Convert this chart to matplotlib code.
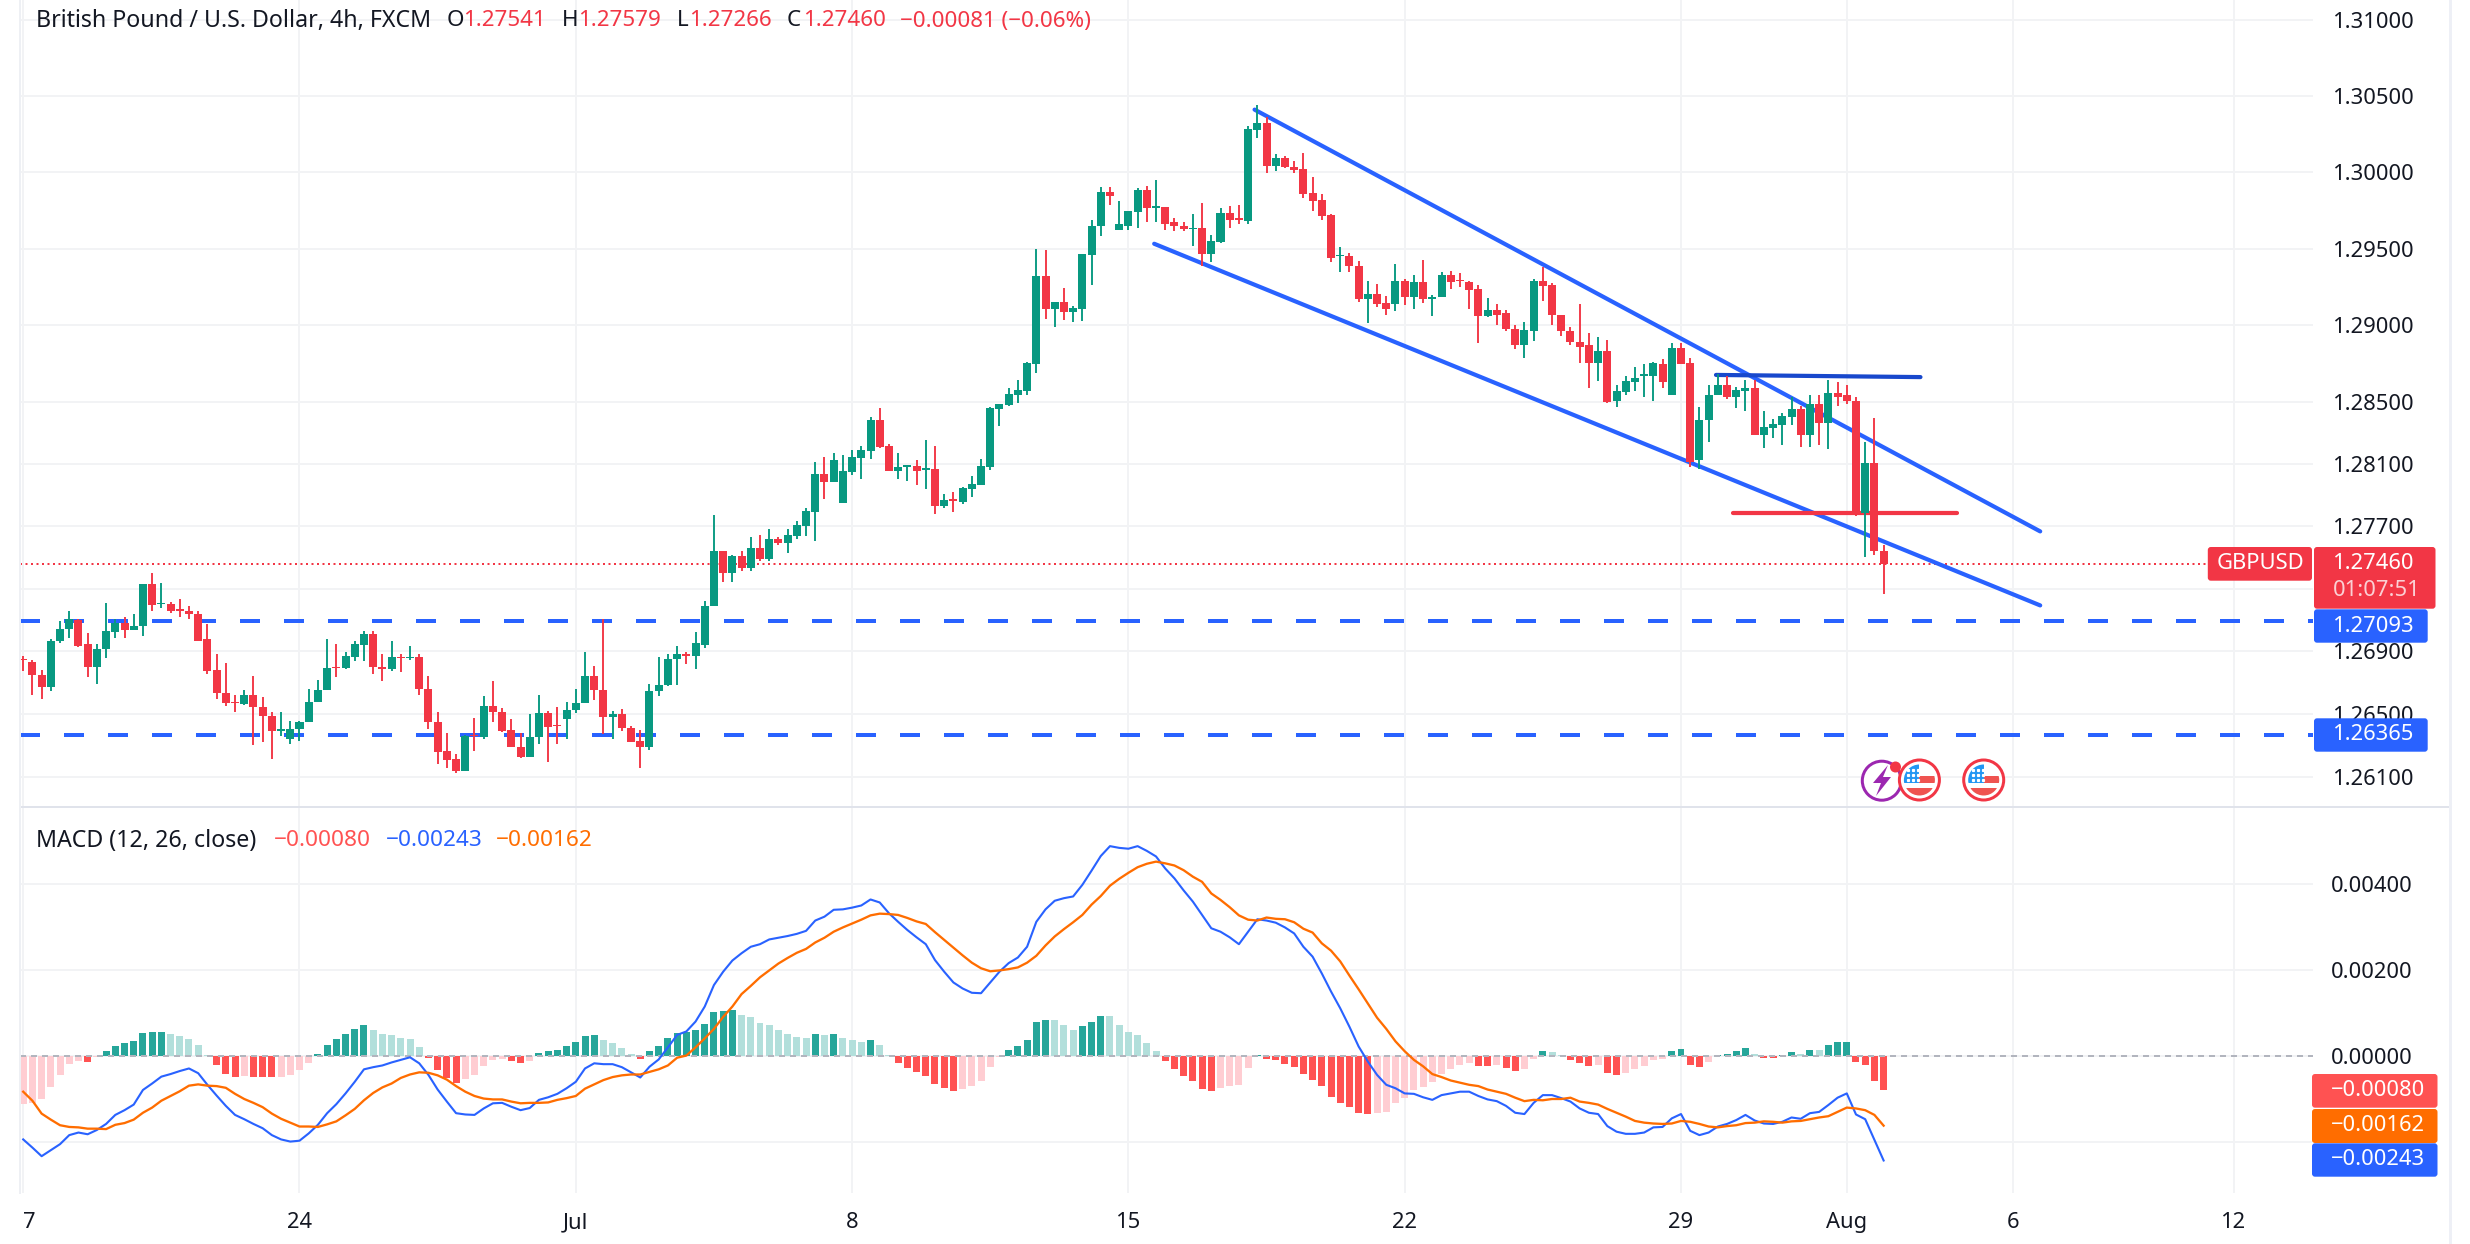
import matplotlib
matplotlib.use("Agg")
import matplotlib.pyplot as plt
import numpy as np
from matplotlib.patches import Circle, FancyBboxPatch, Polygon, Rectangle

plt.rcParams['font.family'] = ['Noto Sans', 'DejaVu Sans']

opens = [1.26853,1.26834,1.26751,1.26670,1.26962,1.27041,1.27098,1.26943,1.26798,1.26913,
         1.27020,1.27083,1.27034,1.27060,1.27327,1.27199,1.27205,1.27167,1.27160,1.27141,
         1.26975,1.26783,1.26636,1.26578,1.26561,1.26623,1.26546,1.26488,1.26388,1.26337,
         1.26401,1.26446,1.26574,1.26650,1.26802,1.26791,1.26866,1.26938,1.27013,1.26802,
         1.26785,1.26866,1.26855,1.26860,1.26661,1.26450,1.26264,1.26213,1.26138,1.26367,
         1.26350,1.26552,1.26514,1.26399,1.26290,1.26228,1.26350,1.26507,1.26431,1.26465,
         1.26522,1.26567,1.26744,1.26655,1.26478,1.26501,1.26412,1.26328,1.26286,1.26644,
         1.26682,1.26849,1.26885,1.26868,1.26937,1.27186,1.27540,1.27399,1.27507,1.27432,
         1.27559,1.27488,1.27617,1.27591,1.27637,1.27701,1.27794,1.28038,1.27986,1.27850,
         1.28051,1.28142,1.28187,1.28388,1.28219,1.28058,1.28083,1.28090,1.28064,1.28071,
         1.27831,1.27876,1.27857,1.27941,1.27967,1.28083,1.28459,1.28485,1.28550,1.28576,
         1.28750,1.29320,1.29107,1.29152,1.29087,1.29107,1.29456,1.29644,1.29870,1.29618,
         1.29650,1.29741,1.29884,1.29767,1.29773,1.29670,1.29650,1.29625,1.29631,1.29463,
         1.29540,1.29735,1.29696,1.29682,1.30277,1.30321,1.30037,1.30089,1.30035,1.30017,
         1.29861,1.29816,1.29718,1.29448,1.29452,1.29387,1.29168,1.29206,1.29148,1.29137,
         1.29289,1.29182,1.29284,1.29168,1.29182,1.29329,1.29295,1.29284,1.29237,1.29059,
         1.29101,1.29077,1.28978,1.28875,1.28965,1.29289,1.29264,1.29070,1.28965,1.28893,
         1.28869,1.28753,1.28835,1.28507,1.28569,1.28634,1.28668,1.28668,1.28750,1.28547,
         1.28855,1.28757,1.28129,1.28384,1.28545,1.28610,1.28538,1.28576,1.28596,1.28292,
         1.28337,1.28357,1.28408,1.28460,1.28292,1.28487,1.28364,1.28558,1.28545,1.28511,
         1.27787,1.28109,1.27541]
highs = [1.26872,1.26845,1.26781,1.26979,1.27094,1.27154,1.27107,1.27017,1.26949,1.27211,
         1.27103,1.27120,1.27135,1.27333,1.27401,1.27339,1.27218,1.27231,1.27192,1.27154,
         1.27077,1.26879,1.26827,1.26623,1.26655,1.26744,1.26610,1.26514,1.26514,1.26456,
         1.26456,1.26661,1.26719,1.26981,1.26943,1.26898,1.26968,1.27026,1.27026,1.26879,
         1.26962,1.26885,1.26936,1.26885,1.26744,1.26514,1.26380,1.26245,1.26367,1.26476,
         1.26616,1.26712,1.26539,1.26469,1.26380,1.26501,1.26623,1.26520,1.26546,1.26578,
         1.26661,1.26898,1.26808,1.27103,1.26520,1.26533,1.26424,1.26399,1.26693,1.26860,
         1.26879,1.26936,1.26892,1.27020,1.27222,1.27773,1.27540,1.27514,1.27540,1.27630,
         1.27643,1.27682,1.27630,1.27682,1.27734,1.27818,1.28116,1.28148,1.28174,1.28161,
         1.28194,1.28219,1.28407,1.28465,1.28232,1.28174,1.28096,1.28129,1.28258,1.28219,
         1.27909,1.27922,1.27954,1.28025,1.28135,1.28472,1.28491,1.28595,1.28647,1.28763,
         1.29495,1.29489,1.29152,1.29243,1.29126,1.29463,1.29683,1.29903,1.29903,1.29812,
         1.29748,1.29896,1.29909,1.29948,1.29773,1.29702,1.29670,1.29728,1.29799,1.29586,
         1.29767,1.29780,1.29786,1.30299,1.30437,1.30361,1.30120,1.30107,1.30075,1.30127,
         1.29964,1.29854,1.29725,1.29510,1.29472,1.29421,1.29289,1.29271,1.29193,1.29401,
         1.29302,1.29329,1.29425,1.29199,1.29349,1.29356,1.29342,1.29291,1.29264,1.29179,
         1.29141,1.29097,1.29005,1.29023,1.29302,1.29380,1.29278,1.29070,1.28992,1.29141,
         1.28947,1.28927,1.28907,1.28610,1.28668,1.28732,1.28746,1.28759,1.28784,1.28887,
         1.28887,1.28790,1.28473,1.28610,1.28681,1.28668,1.28603,1.28647,1.28647,1.28446,
         1.28395,1.28433,1.28538,1.28480,1.28551,1.28551,1.28647,1.28634,1.28616,1.28538,
         1.28245,1.28402,1.27579]
lows = [1.26772,1.26618,1.26593,1.26644,1.26955,1.26983,1.26930,1.26734,1.26689,1.26855,
        1.26983,1.26983,1.27034,1.27000,1.27156,1.27175,1.27143,1.27118,1.27105,1.26964,
        1.26753,1.26593,1.26548,1.26510,1.26554,1.26305,1.26318,1.26215,1.26362,1.26311,
        1.26330,1.26446,1.26574,1.26650,1.26734,1.26785,1.26836,1.26836,1.26753,1.26708,
        1.26772,1.26766,1.26842,1.26618,1.26401,1.26183,1.26158,1.26126,1.26138,1.26266,
        1.26343,1.26446,1.26382,1.26286,1.26222,1.26228,1.26311,1.26196,1.26311,1.26343,
        1.26503,1.26567,1.26586,1.26369,1.26337,1.26388,1.26324,1.26158,1.26273,1.26616,
        1.26676,1.26682,1.26817,1.26785,1.26918,1.27186,1.27341,1.27341,1.27412,1.27412,
        1.27477,1.27477,1.27581,1.27527,1.27617,1.27637,1.27604,1.27876,1.27986,1.27850,
        1.28032,1.28006,1.28135,1.28207,1.28058,1.28006,1.27993,1.27967,1.27941,1.27779,
        1.27818,1.27792,1.27844,1.27889,1.27967,1.28064,1.28349,1.28478,1.28498,1.28550,
        1.28692,1.29042,1.28990,1.29035,1.29022,1.29029,1.29262,1.29579,1.29786,1.29618,
        1.29618,1.29637,1.29676,1.29676,1.29618,1.29612,1.29612,1.29514,1.29385,1.29411,
        1.29534,1.29637,1.29663,1.29662,1.30221,1.29993,1.30006,1.30024,1.29993,1.29827,
        1.29747,1.29689,1.29410,1.29345,1.29349,1.29150,1.29018,1.29121,1.29065,1.29090,
        1.29130,1.29103,1.29144,1.29059,1.29182,1.29237,1.29251,1.29103,1.28884,1.29052,
        1.29005,1.28960,1.28844,1.28786,1.28896,1.29155,1.29001,1.28929,1.28869,1.28753,
        1.28592,1.28636,1.28498,1.28469,1.28545,1.28576,1.28534,1.28507,1.28592,1.28547,
        1.28746,1.28084,1.28073,1.28241,1.28545,1.28520,1.28462,1.28442,1.28292,1.28207,
        1.28272,1.28227,1.28357,1.28214,1.28214,1.28227,1.28201,1.28480,1.28487,1.27767,
        1.27506,1.27519,1.27266]
closes = [1.26842,1.26746,1.26670,1.26968,1.27045,1.27107,1.26936,1.26798,1.26917,1.27026,
          1.27083,1.27034,1.27064,1.27327,1.27194,1.27211,1.27156,1.27156,1.27135,1.26968,
          1.26776,1.26631,1.26567,1.26567,1.26623,1.26542,1.26484,1.26388,1.26405,1.26405,
          1.26450,1.26578,1.26655,1.26795,1.26791,1.26872,1.26943,1.27013,1.26798,1.26785,
          1.26860,1.26855,1.26866,1.26657,1.26446,1.26260,1.26209,1.26138,1.26362,1.26356,
          1.26552,1.26510,1.26394,1.26286,1.26228,1.26354,1.26507,1.26418,1.26420,1.26527,
          1.26571,1.26744,1.26650,1.26478,1.26501,1.26407,1.26324,1.26286,1.26648,1.26687,
          1.26853,1.26885,1.26868,1.26955,1.27190,1.27540,1.27399,1.27507,1.27432,1.27559,
          1.27488,1.27617,1.27591,1.27643,1.27708,1.27799,1.28038,1.27986,1.28129,1.28058,
          1.28148,1.28194,1.28388,1.28213,1.28058,1.28083,1.28096,1.28058,1.28077,1.27831,
          1.27870,1.27863,1.27948,1.27973,1.28090,1.28465,1.28491,1.28556,1.28582,1.28757,
          1.29320,1.29107,1.29152,1.29087,1.29113,1.29463,1.29650,1.29870,1.29845,1.29657,
          1.29748,1.29884,1.29767,1.29780,1.29663,1.29644,1.29625,1.29637,1.29463,1.29547,
          1.29735,1.29683,1.29683,1.30283,1.30321,1.30037,1.30089,1.30031,1.30011,1.29854,
          1.29810,1.29713,1.29441,1.29459,1.29383,1.29168,1.29206,1.29141,1.29103,1.29289,
          1.29182,1.29284,1.29168,1.29186,1.29329,1.29284,1.29287,1.29231,1.29059,1.29101,
          1.29070,1.28974,1.28875,1.28972,1.29289,1.29258,1.29065,1.28960,1.28889,1.28862,
          1.28753,1.28835,1.28502,1.28576,1.28641,1.28661,1.28681,1.28753,1.28630,1.28855,
          1.28750,1.28118,1.28388,1.28549,1.28610,1.28538,1.28583,1.28596,1.28292,1.28344,
          1.28361,1.28413,1.28460,1.28292,1.28487,1.28364,1.28558,1.28538,1.28507,1.27787,
          1.28109,1.27539,1.27460]

hist = [-111,-109,-99,-71,-44,-19,-12,-13,-3,12,23,30,35,53,56,56,51,47,40,26,
        2,-22,-42,-49,-47,-49,-49,-50,-48,-44,-33,-16,5,26,40,51,63,72,60,51,
        49,42,40,21,-5,-33,-51,-63,-53,-44,-23,-9,-8,-12,-16,-12,7,12,14,23,
        33,47,49,37,30,19,5,-7,12,23,42,53,56,60,74,102,105,107,95,91,
        77,72,60,51,44,42,51,49,51,42,37,33,37,26,2,-16,-28,-37,-47,-65,
        -74,-81,-77,-70,-58,-26,-3,14,23,37,79,84,83,72,60,70,79,93,92,72,
        56,49,30,12,-12,-30,-47,-58,-77,-81,-74,-70,-67,-28,3,-7,-9,-19,-26,-42,
        -56,-70,-95,-109,-119,-133,-135,-133,-130,-109,-98,-79,-72,-60,-42,-30,-21,-16,-23,-23,
        -22,-28,-35,-30,-7,12,9,2,-9,-16,-23,-22,-40,-44,-40,-30,-23,-9,-7,12,
        16,-21,-26,-14,2,5,12,19,5,-5,-5,2,9,5,14,13,26,33,33,-14,
        -21,-58,-80]
macd_line = [-194,-213,-233,-219,-205,-184,-178,-182,-172,-158,-137,-126,-113,-79,-64,-48,-42,-35,-29,-40,
             -67,-92,-116,-137,-147,-158,-168,-184,-194,-199,-197,-180,-160,-133,-112,-87,-60,-31,-26,-22,
             -15,-9,-3,-17,-44,-78,-106,-133,-136,-137,-122,-110,-109,-118,-126,-121,-102,-96,-88,-75,
             -60,-29,-17,-19,-19,-26,-38,-50,-25,-8,20,49,57,80,115,165,196,222,239,254,
             260,271,275,279,284,291,315,324,340,341,345,350,364,357,332,312,293,276,260,223,
             196,171,157,147,146,171,196,216,229,254,312,341,361,367,371,398,431,465,488,484,
             482,488,477,464,436,413,385,359,328,297,289,276,260,289,318,315,310,299,285,254,
             231,192,150,111,68,22,-13,-44,-67,-75,-87,-88,-96,-102,-91,-87,-83,-83,-93,-101,
             -105,-116,-132,-135,-109,-91,-91,-98,-106,-122,-132,-135,-163,-176,-181,-181,-178,-166,-165,-145,
             -135,-174,-184,-178,-164,-158,-149,-137,-150,-157,-158,-153,-143,-146,-133,-130,-114,-97,-87,-136,
             -147,-195,-243]
signal_line = [-83,-104,-134,-148,-161,-165,-166,-169,-169,-170,-160,-156,-148,-132,-120,-104,-93,-82,-69,-66,
               -69,-70,-74,-88,-100,-109,-119,-134,-146,-155,-164,-164,-165,-159,-152,-138,-123,-103,-86,-73,
               -64,-51,-43,-38,-39,-45,-55,-70,-83,-93,-99,-101,-101,-106,-110,-109,-109,-108,-102,-98,
               -93,-76,-66,-56,-49,-45,-43,-43,-37,-31,-22,-4,1,20,41,63,91,115,144,163,
               183,199,215,228,240,249,264,275,289,299,308,317,327,331,330,328,321,313,307,288,
               270,252,234,217,204,197,199,202,206,217,233,257,278,295,311,328,352,372,396,412,
               426,439,447,452,448,443,432,417,405,378,363,346,327,317,315,322,319,318,311,296,
               287,262,245,220,187,155,122,89,63,34,11,-9,-24,-42,-49,-57,-62,-67,-70,-78,
               -83,-88,-97,-105,-102,-103,-100,-100,-97,-106,-109,-113,-123,-132,-141,-151,-155,-157,-158,-157,
               -151,-153,-158,-164,-166,-163,-161,-156,-155,-152,-153,-155,-152,-151,-147,-143,-140,-130,-120,-122,
               -126,-137,-162]

price_ticks = [1.31, 1.305, 1.30, 1.295, 1.29, 1.285, 1.281, 1.277, 1.273, 1.269, 1.265, 1.261]
price_labels = ['1.31000', '1.30500', '1.30000', '1.29500', '1.29000', '1.28500', '1.28100', '1.27700', '',
                '1.26900', '1.26500', '1.26100']
macd_ticks = [0.004, 0.002, 0.0, -0.002]
macd_labels = ['0.00400', '0.00200', '0.00000', '']
time_ticks = [0, 30, 60, 90, 120, 150, 180, 198, 216, 240]
time_labels = ['7', '24', 'Jul', '8', '15', '22', '29', 'Aug', '6', '12']
last_price = 1.2746
support_levels = [1.27093, 1.26365]
channel_upper = ([133.7, 219.0], [1.30409, 1.27668])
channel_lower = ([122.8, 219.0], [1.29531, 1.27193])
top_line = ([183.8, 206.0], [1.28678, 1.28664])
mid_line = ([185.7, 210.0], [1.27786, 1.27786])

W, H = 2470, 1244
GREEN, RED = '#089981', '#f23645'
BLUE, ORANGE = '#2962ff', '#ff6d00'
GRID = '#f2f3f5'
INK = '#131722'
FS = 15.8
PX = 0.72  # points in one pixel at dpi 100

opens, highs, lows, closes = map(np.array, (opens, highs, lows, closes))
hist = np.array(hist) * 1e-5
macd_line = np.array(macd_line) * 1e-5
signal_line = np.array(signal_line) * 1e-5
x = np.arange(len(opens))

fig = plt.figure(figsize=(W / 100, H / 100), dpi=100, facecolor='white')


def pane(top, bottom):
    ax = fig.add_axes([20 / W, 1 - bottom / H, (2313 - 20) / W, (bottom - top) / H])
    ax.set_xlim((20 - 23.2) / 9.21, (2313 - 23.2) / 9.21)
    for s in ax.spines.values():
        s.set_visible(False)
    ax.yaxis.tick_right()
    ax.grid(True, color=GRID, lw=2 * PX, zorder=0)
    ax.set_axisbelow(True)
    ax.tick_params(length=0, colors=INK, labelsize=FS)
    return ax


ax = pane(0, 806.7)
ax.set_yscale('log')
ax.set_ylim(1.25910, 1.31131)
ax.minorticks_off()
ax.set_yticks(price_ticks)
ax.set_yticklabels(price_labels)
ax.tick_params(axis='y', pad=20 * PX)
ax.set_xticks(time_ticks)
ax.set_xticklabels([])

colors = np.where(closes >= opens, GREEN, RED)
for level in support_levels:
    ax.axhline(level, color=BLUE, lw=4 * PX, dashes=(5, 6), dash_capstyle='butt', zorder=2)
ax.axhline(last_price, color=RED, lw=2 * PX, dashes=(1, 1.75), dash_capstyle='butt', zorder=2)
for line in (channel_upper, channel_lower):
    ax.plot(line[0], line[1], color=BLUE, lw=4.2 * PX, solid_capstyle='round', zorder=3)
ax.plot(top_line[0], top_line[1], color='#1848cc', lw=4.2 * PX, solid_capstyle='round', zorder=3)
ax.plot(mid_line[0], mid_line[1], color=RED, lw=4.2 * PX, solid_capstyle='round', zorder=3)
ax.vlines(x, lows, highs, colors=colors, lw=1.9 * PX, zorder=4)
ax.bar(x, np.abs(closes - opens), bottom=np.minimum(opens, closes), width=0.87, color=colors, lw=0, zorder=5)

ax2 = pane(808, 1193)
ax2.set_ylim(-0.003186, 0.005767)
ax2.set_yticks(macd_ticks)
ax2.set_yticklabels(macd_labels)
ax2.tick_params(axis='y', pad=17.5 * PX)
ax2.set_xticks(time_ticks)
ax2.set_xticklabels(time_labels)
ax2.tick_params(axis='x', pad=19 * PX)
ax2.get_xticklabels()[0].set_ha('left')

bar_colors = []
prev = hist[0]
for v in hist:
    if v >= 0:
        bar_colors.append('#26a69a' if v >= prev else '#b2dfdb')
    else:
        bar_colors.append('#ff5252' if v <= prev and v != hist[0] else '#ffcdd2')
    prev = v
ax2.bar(x, hist, width=0.76, color=bar_colors, lw=0, zorder=2)
ax2.axhline(0, color='#b2b5be', lw=2 * PX, dashes=(3, 2.5), dash_capstyle='butt', zorder=3)
ax2.plot(x, macd_line, color=BLUE, lw=2.1 * PX, solid_joinstyle='round', zorder=4)
ax2.plot(x, signal_line, color=ORANGE, lw=2.3 * PX, solid_joinstyle='round', zorder=5)

# overlay in pixel coords for labels, boxes and event icons
ov = fig.add_axes([0, 0, 1, 1], zorder=10)
ov.set_xlim(0, W)
ov.set_ylim(H, 0)
ov.axis('off')
ov.patch.set_alpha(0)

ov.plot([20, 2450], [807, 807], color='#e0e3eb', lw=2 * PX)
ov.plot([20, 20], [0, 1193], color='#eef0f4', lw=2 * PX)
ov.plot([2450, 2450], [0, H], color='#eef0f6', lw=3 * PX)


def box(x0, x1, y0, y1, color):
    ov.add_patch(FancyBboxPatch((x0 + 2, y0 + 2), x1 - x0 - 4, y1 - y0 - 4, boxstyle='round,pad=2,rounding_size=3',
                                fc=color, ec='none'))


def label(px, py, s, color=INK, **kw):
    ov.text(px, py, s, color=color, fontsize=kw.pop('fontsize', FS), va='center', ha='left', **kw)


box(2207.8, 2312, 547, 580.7, RED)
box(2314, 2435.5, 547, 608.7, RED)
box(2314, 2427.7, 609.3, 642.7, BLUE)
box(2314, 2427.7, 718.3, 751.7, BLUE)
box(2312, 2437.5, 1074, 1107.7, '#ff5252')
box(2312, 2437.5, 1109, 1143, ORANGE)
box(2312, 2437.5, 1143.3, 1176.7, BLUE)
label(2217, 563.5, 'GBPUSD', 'white')
label(2333, 563.5, '1.27460', 'white')
label(2333, 591, '01:07:51', '#fbd0d4')
label(2333, 626, '1.27093', 'white')
label(2333, 735, '1.26365', 'white')
label(2331, 1090.5, '−0.00080', 'white')
label(2331, 1125.5, '−0.00162', 'white')
label(2331, 1159.5, '−0.00243', 'white')

label(36.5, 21, 'British Pound / U.S. Dollar, 4h, FXCM', fontsize=16.7)
for px, s, c in [(447, 'O', INK), (463.5, '1.27541', RED), (561.5, 'H', INK), (578, '1.27579', RED),
                 (677, 'L', INK), (689.5, '1.27266', RED), (787, 'C', INK), (803, '1.27460', RED),
                 (900.5, '−0.00081 (−0.06%)', RED)]:
    label(px, 21, s, c, fontsize=16.1)
label(36.5, 841, 'MACD (12, 26, close)', fontsize=16.7)
for px, s, c in [(274, '−0.00080', '#ff5252'), (386, '−0.00243', BLUE), (496, '−0.00162', ORANGE)]:
    label(px, 841, s, c, fontsize=16.3)

# lightning event
ov.add_patch(Circle((1881.8, 780.7), 19.5, fc='white', ec='#9c27b0', lw=3 * PX))
ov.add_patch(Polygon([(1888, 765), (1873, 783), (1881, 783), (1876, 796), (1891, 777), (1883, 777)],
                     fc='#9c27b0', ec='none'))
ov.add_patch(Circle((1895.5, 767), 5.5, fc=RED, ec='none', zorder=5))


def flag(cx, cy):
    ring = Circle((cx, cy), 20, fc='white', ec=RED, lw=3 * PX, zorder=6)
    ov.add_patch(ring)
    clip = Circle((cx, cy), 15.5, transform=ov.transData)
    parts = [(cx - 16, cy - 16, 16, 19, '#2196f3'), (cx, cy - 4, 16, 7, '#ef5350'), (cx - 16, cy + 8, 32, 9, '#ef5350')]
    for x0, y0, w, h, c in parts:
        r = Rectangle((x0, y0), w, h, fc=c, ec='none', zorder=7)
        ov.add_patch(r)
        r.set_clip_path(clip)
    for sx in (-11, -6, -1):
        for sy in (-10, -5, 0):
            ov.plot(cx + sx, cy + sy, 's', ms=1.3, color='white', zorder=8)


flag(1919.4, 780)
flag(1983.7, 780)

fig.savefig('out.png', dpi=100)
